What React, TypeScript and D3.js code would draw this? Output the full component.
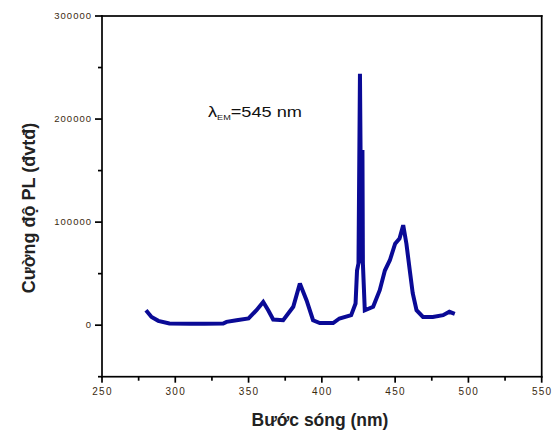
import React from "react";
import * as d3 from "d3";

// Photoluminescence excitation spectrum (monitored at 545 nm)
const wavelengths = [
  280, 283.8, 288.4, 296, 310, 320, 332.7, 335, 341.8, 350, 355.4, 360, 363.4, 366.8,
  373.6, 380.5, 385, 389.6, 394, 398.6, 407.7, 412, 420, 423, 424, 425, 426, 427, 427.7,
  428, 429.3, 435, 439.5, 443, 446.4, 450, 453, 455.5, 457.7, 460, 462, 464.6, 469,
  475.7, 482.7, 487, 490.7,
];
const intensities = [
  14500, 8000, 4200, 1600, 1500, 1500, 1600, 3200, 4800, 6500, 14500, 22600, 14500, 5500,
  4800, 17800, 40500, 24000, 4800, 2000, 2000, 6500, 9700, 21000, 53000, 60000, 244000, 60000, 170000,
  60000, 14500, 17800, 34000, 53000, 63000, 79000, 84000, 97000, 79000, 53000, 31000, 14500, 8000,
  8000, 9700, 13000, 11000,
];

const xTicks = [250, 300, 350, 400, 450, 500, 550];
const xMinor = [275, 325, 375, 425, 475, 525];
const yTicks = [0, 100000, 200000, 300000];
const yMinor = [-50000, 50000, 150000, 250000];

const W = 555;
const H = 430;
const plotLeft = 102;
const plotRight = 541.7;
const plotTop = 16;
const plotBottom = 376.7;
const lw = 1.7;

export default function App() {
  const x = d3.scaleLinear().domain([250, 550]).range([plotLeft, plotRight]);
  const y = d3.scaleLinear().domain([-50000, 300000]).range([plotBottom, plotTop]);
  const pts: [number, number][] = wavelengths.map((w, i) => [w, intensities[i]]);
  const line = d3
    .line<[number, number]>()
    .x((d) => x(d[0]))
    .y((d) => y(d[1]))
    .curve(d3.curveLinear);

  const font = "Arial, 'Liberation Sans', sans-serif";
  const tickColor = "#3a2a10";
  const axisColor = "#000000";

  // frame edges and tick marks drawn as thin filled bars
  const bars: { x: number; y: number; w: number; h: number }[] = [
    { x: plotLeft - lw / 2, y: plotTop - lw / 2, w: plotRight - plotLeft + lw, h: lw },
    { x: plotLeft - lw / 2, y: plotBottom - lw / 2, w: plotRight - plotLeft + lw, h: lw },
    { x: plotLeft - lw / 2, y: plotTop - lw / 2, w: lw, h: plotBottom - plotTop + lw },
    { x: plotRight - lw / 2, y: plotTop - lw / 2, w: lw, h: plotBottom - plotTop + lw },
    ...xTicks.map((t) => ({ x: x(t) - lw / 2, y: plotBottom, w: lw, h: 6 })),
    ...xMinor.map((t) => ({ x: x(t) - lw / 2, y: plotBottom, w: lw, h: 4 })),
    ...yTicks.map((t) => ({ x: plotLeft - 7, y: y(t) - lw / 2, w: 7, h: lw })),
    ...yMinor.map((t) => ({ x: plotLeft - 4, y: y(t) - lw / 2, w: 4, h: lw })),
  ];

  return (
    <svg
      width={W}
      height={H}
      style={{ position: "absolute", left: 0, top: 0, background: "#fff" }}
    >
      {bars.map((b, i) => (
        <rect key={"b" + i} x={b.x} y={b.y} width={b.w} height={b.h} fill={axisColor} />
      ))}
      {/* x tick labels */}
      {xTicks.map((t) => (
        <text
          key={"xt" + t}
          x={x(t) + 0.5}
          y={plotBottom + 18.5}
          textAnchor="middle"
          fontSize={10}
          fontFamily={font}
          fill={tickColor}
          letterSpacing={1.3}
        >
          {t}
        </text>
      ))}
      {/* y tick labels */}
      {yTicks.map((t) => (
        <text
          key={"yt" + t}
          x={plotLeft - 10}
          y={y(t) + 3.3}
          textAnchor="end"
          fontSize={9.5}
          fontFamily={font}
          fill={tickColor}
          letterSpacing={1}
        >
          {t}
        </text>
      ))}
      {/* spectrum */}
      <path
        d={line(pts) ?? ""}
        fill="none"
        stroke="#0a0a96"
        strokeWidth={4}
        strokeLinejoin="miter"
        strokeMiterlimit={2}
      />
      {/* annotation */}
      <text
        transform="translate(208,116.5) scale(1.3,1)"
        fontSize={14}
        fontFamily={font}
        fill="#111"
      >
        λ
        <tspan fontSize={7} dy={3.5}>EM</tspan>
        <tspan dy={-3.5}>=545 nm</tspan>
      </text>
      {/* axis titles */}
      <text
        x={320}
        y={426}
        textAnchor="middle"
        fontSize={17.5}
        fontWeight="bold"
        fontFamily={font}
        fill="#222"
      >
        Bước sóng (nm)
      </text>
      <text
        transform={`translate(35,208) rotate(-90)`}
        textAnchor="middle"
        fontSize={18}
        fontWeight="bold"
        fontFamily={font}
        fill="#222"
      >
        Cường độ PL (đvtđ)
      </text>
    </svg>
  );
}
